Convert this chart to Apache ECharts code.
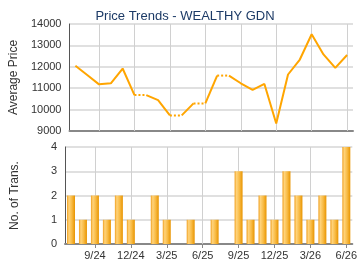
<!DOCTYPE html>
<html><head><meta charset="utf-8">
<script src="https://cdn.jsdelivr.net/npm/echarts@6/dist/echarts.min.js"></script>
<style>html,body{margin:0;padding:0;background:#fff;}#c{width:360px;height:270px;}</style>
</head><body><div id="c"></div>
<script>
const months = ['7/24','8/24','9/24','10/24','11/24','12/24','1/25','2/25','3/25','4/25','5/25','6/25','7/25','8/25','9/25','10/25','11/25','12/25','1/26','2/26','3/26','4/26','5/26','6/26'];
const avgPrice = [12050,11620,11180,11230,11920,10680,null,10440,9730,null,10290,null,11590,null,11230,10920,11200,9350,11640,12340,13520,12580,11950,12550];
const transCount = [2,1,2,1,2,1,0,2,1,0,1,0,1,0,3,1,2,1,3,2,1,2,1,4];
const gridMonths = ['9/24','12/24','3/25','6/25','9/25','12/25','3/26','6/26'];
const priceTicks = {min:9000,max:14000,interval:1000};
const transTicks = {min:0,max:4,interval:1};

const FONT = 'Liberation Sans, Arial, sans-serif';
const ORANGE = '#ffa500';
const n = months.length;
const filled = [];
avgPrice.forEach((v,i)=>{ filled.push(v!=null?v:filled[i-1]); });
const runs = [];
for (let i=1;i<n;i++){
  const dotted = avgPrice[i]==null;
  const last = runs[runs.length-1];
  if (last && last.dotted===dotted && last.end===i-1) last.end=i;
  else runs.push({dotted, start:i-1, end:i});
}
const lineSeries = runs.map(r=>({
  type:'line', xAxisIndex:0, yAxisIndex:0, symbol:'none', silent:true,
  lineStyle:{color:ORANGE,width:2,type:r.dotted?'dotted':'solid'},
  data: months.map((m,i)=> (i>=r.start&&i<=r.end)?filled[i]:null),
  z:3
}));
const vLines = ()=>({silent:true,symbol:'none',label:{show:false},z:1,
  lineStyle:{color:'#d0d0d0',width:1,type:'solid'},
  data:gridMonths.map(m=>({xAxis:m}))});
const gridSeries = [0,1].map(k=>({type:'line',xAxisIndex:k,yAxisIndex:k,data:[],z:1,silent:true,markLine:vLines()}));
const labelShow = (idx,val)=>gridMonths.indexOf(val)>=0;
const plain = v=>String(v);

const chart = echarts.init(document.getElementById('c'),null,{renderer:'canvas'});
chart.setOption({
  animation:false,
  backgroundColor:'#fff',
  title:{text:'Price Trends - WEALTHY GDN',left:180,textAlign:'center',top:5,
    textStyle:{fontFamily:FONT,fontSize:13,fontWeight:'normal',color:'#1c3a66'}},
  grid:[{left:65,top:24,width:288,height:107},{left:65,top:147,width:288,height:97}],
  xAxis:[
    {type:'category',gridIndex:0,data:months,boundaryGap:true,
     axisLine:{lineStyle:{color:'#888',width:2}},axisTick:{show:false},axisLabel:{show:false},splitLine:{show:false}},
    {type:'category',gridIndex:1,data:months,boundaryGap:true,
     axisLine:{lineStyle:{color:'#888',width:2}},
     axisTick:{show:true,alignWithLabel:true,interval:labelShow,length:4,lineStyle:{color:'#888'}},
     axisLabel:{interval:labelShow,fontFamily:FONT,fontSize:11,color:'#333',margin:6},splitLine:{show:false}}
  ],
  yAxis:[
    {type:'value',gridIndex:0,min:priceTicks.min,max:priceTicks.max,interval:priceTicks.interval,
     name:'Average Price',nameLocation:'middle',nameGap:44,
     nameTextStyle:{fontFamily:FONT,fontSize:12,color:'#333'},
     axisLine:{show:true,lineStyle:{color:'#555',width:1}},axisTick:{show:false},
     axisLabel:{fontFamily:FONT,fontSize:11,color:'#333',margin:8,formatter:plain},
     splitLine:{lineStyle:{color:'#e0e0e0',width:2}}},
    {type:'value',gridIndex:1,min:transTicks.min,max:transTicks.max,interval:transTicks.interval,
     name:'No. of Trans.',nameLocation:'middle',nameGap:44,
     nameTextStyle:{fontFamily:FONT,fontSize:12,color:'#333'},
     axisLine:{show:true,lineStyle:{color:'#555',width:1}},axisTick:{show:false},
     axisLabel:{fontFamily:FONT,fontSize:11,color:'#333',margin:8,formatter:plain},
     splitLine:{lineStyle:{color:'#e0e0e0',width:2}}}
  ],
  series:[...gridSeries,...lineSeries,
    {type:'bar',xAxisIndex:1,yAxisIndex:1,data:transCount,barWidth:8,silent:true,
     itemStyle:{color:new echarts.graphic.LinearGradient(0,0,1,0,[
       {offset:0,color:'#f0a020'},{offset:0.25,color:'#ffd37a'},{offset:0.6,color:'#f8bb45'},{offset:1,color:'#e89400'}])},
     z:2}
  ]
});
</script></body></html>
